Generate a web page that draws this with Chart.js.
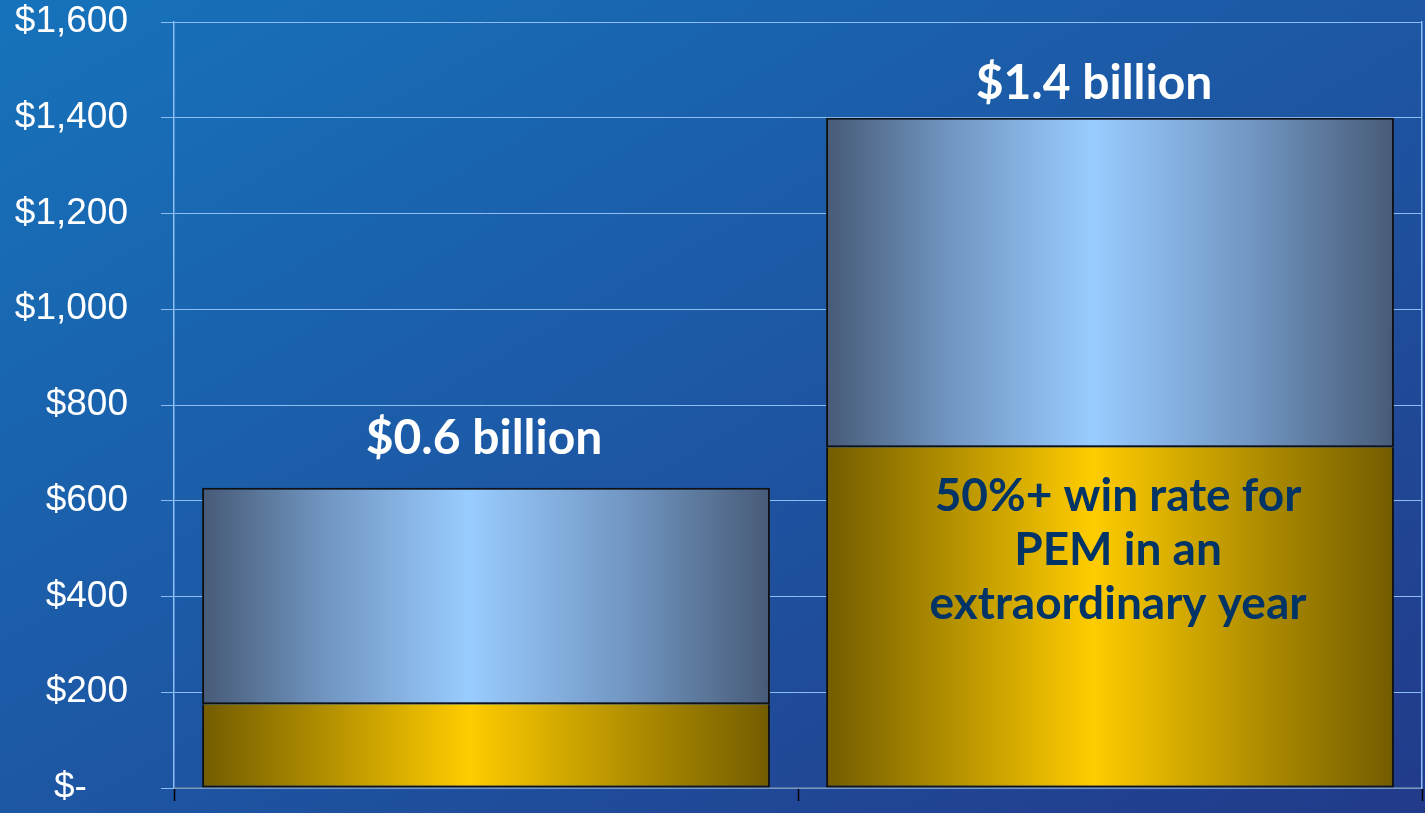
<!DOCTYPE html>
<html>
<head>
<meta charset="utf-8">
<script src="https://cdn.jsdelivr.net/npm/chart.js@4/dist/chart.umd.min.js"></script>
<style>
  html, body { margin: 0; padding: 0; }
  body {
    width: 1425px; height: 813px; overflow: hidden;
    background: linear-gradient(to bottom right, #1673bb 0%, #1d57a4 50%, #223a8a 100%);
  }
  canvas { display: block; }
</style>
</head>
<body>
<canvas id="chart" width="1425" height="813"></canvas>
<script>
// Two stacked bars: the gold base (won share) plus the remaining pipeline on top.
const categories = ['Period 1', 'Period 2'];
const baseValues = [175, 712];
const upperValues = [452, 688];
const tickValues = [0, 200, 400, 600, 800, 1000, 1200, 1400, 1600];
const tickLabels = ['$-', '$200', '$400', '$600', '$800', '$1,000', '$1,200', '$1,400', '$1,600'];
const noteLines = ['50%+ win rate for', 'PEM in an', 'extraordinary year'];

const BAR_PCT = 0.91;
const GRID_BLUE = '#8cbdf5';

function barGradient(ctx, stops) {
  const chart = ctx.chart;
  const xs = chart.scales && chart.scales.x;
  if (ctx.type !== 'data' || !xs || !isFinite(xs.left)) return stops[2][1];
  const cat = (xs.right - xs.left) / categories.length;
  const w = cat * BAR_PCT;
  const c = xs.getPixelForValue(ctx.dataIndex);
  const g = chart.ctx.createLinearGradient(c - w / 2, 0, c + w / 2, 0);
  stops.forEach(([p, col]) => g.addColorStop(p, col));
  return g;
}

const goldStops = [[0, '#735c00'], [0.22, '#b39000'], [0.47, '#ffcc00'], [0.75, '#b39000'], [1, '#735c00']];
const slateStops = [[0, '#475b77'], [0.22, '#7196c2'], [0.47, '#99ccff'], [0.75, '#7196c2'], [1, '#475b77']];

const totals = baseValues.map((v, i) => v + upperValues[i]);

const labelPlugin = {
  id: 'barLabels',
  afterDatasetsDraw(chart) {
    const ctx = chart.ctx;
    const top = chart.getDatasetMeta(1).data;
    const base = chart.getDatasetMeta(0).data;
    const shifts = [{ dx: -2, dy: 34 }, { dx: -16, dy: 19 }];
    ctx.save();
    ctx.textAlign = 'center';
    ctx.textBaseline = 'alphabetic';
    ctx.font = 'bold 48px Lato, "Open Sans", sans-serif';
    ctx.fillStyle = '#ffffff';
    top.forEach((el, i) => {
      const txt = '$' + (totals[i] / 1000).toFixed(1) + ' billion';
      ctx.fillText(txt, el.x + shifts[i].dx, el.y - shifts[i].dy);
    });
    // note inside the gold segment of the second bar
    const g = base[1];
    ctx.font = 'bold 46px Lato, "Open Sans", sans-serif';
    ctx.fillStyle = '#003366';
    noteLines.forEach((line, k) => {
      ctx.fillText(line, g.x + 8, g.y + 64 + k * 54);
    });
    ctx.restore();
  }
};

new Chart(document.getElementById('chart'), {
  type: 'bar',
  data: {
    labels: categories,
    datasets: [
      {
        data: baseValues,
        backgroundColor: (c) => barGradient(c, goldStops),
        borderColor: '#111111',
        borderWidth: 2,
        borderSkipped: 'top',
        barPercentage: BAR_PCT,
        categoryPercentage: 1.0
      },
      {
        data: upperValues,
        backgroundColor: (c) => barGradient(c, slateStops),
        borderColor: '#111111',
        borderWidth: 2,
        borderSkipped: false,
        barPercentage: BAR_PCT,
        categoryPercentage: 1.0
      }
    ]
  },
  options: {
    responsive: false,
    animation: false,
    devicePixelRatio: 1,
    layout: { padding: { top: 22, right: 2, bottom: 0, left: 0 } },
    plugins: { legend: { display: false }, tooltip: { enabled: false } },
    scales: {
      x: {
        stacked: true,
        grid: {
          drawOnChartArea: false,
          drawTicks: true,
          tickLength: 13,
          tickColor: '#000000',
          tickWidth: 1.5
        },
        border: { display: true, color: '#5b7299', width: 1.5 },
        ticks: { display: false },
        afterFit: (s) => { s.height = 25; }
      },
      y: {
        stacked: true,
        min: 0,
        max: 1600,
        afterBuildTicks: (s) => { s.ticks = tickValues.map(v => ({ value: v })); },
        grid: {
          color: GRID_BLUE,
          lineWidth: 1,
          tickLength: 13,
          tickColor: GRID_BLUE
        },
        border: { display: true, color: GRID_BLUE, width: 1.5 },
        ticks: {
          autoSkip: false,
          padding: 33,
          color: '#ffffff',
          font: { family: '"Liberation Sans", Arial, sans-serif', size: 37, lineHeight: 0.1 },
          callback: (v, i) => tickLabels[i] + (v === 0 ? '    ' : '')
        },
        afterFit: (s) => { s.width = 174; s.paddingTop = 0; s.paddingBottom = 0; }
      },
      y2: {
        position: 'right',
        min: 0,
        max: 1600,
        grid: { drawOnChartArea: false, drawTicks: false },
        border: { display: true, color: GRID_BLUE, width: 1.5 },
        ticks: { display: false },
        afterFit: (s) => { s.width = 1; }
      }
    }
  },
  plugins: [labelPlugin]
});
</script>
</body>
</html>
